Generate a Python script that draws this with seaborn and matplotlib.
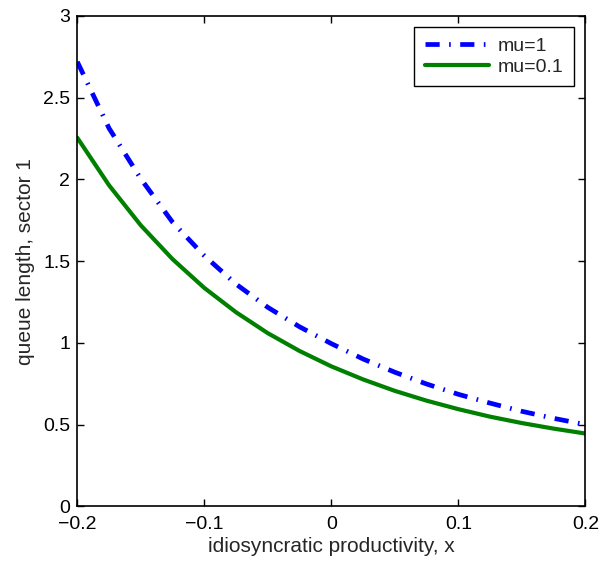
import matplotlib
matplotlib.use("Agg")
import matplotlib.pyplot as plt
import seaborn as sns
import pandas as pd

# data
x_vals = [-0.2, -0.175, -0.15, -0.125, -0.1, -0.075, -0.05, -0.025, 0.0,
          0.025, 0.05, 0.075, 0.1, 0.125, 0.15, 0.175, 0.2]
mu1_vals = [2.72, 2.313, 2.004, 1.738, 1.533, 1.359, 1.217, 1.098, 0.995,
            0.901, 0.820, 0.748, 0.685, 0.631, 0.581, 0.538, 0.50]
mu01_vals = [2.255, 1.964, 1.719, 1.512, 1.336, 1.187, 1.059, 0.950, 0.856,
             0.776, 0.706, 0.646, 0.594, 0.548, 0.509, 0.475, 0.445]
series_labels = ["mu=1", "mu=0.1"]
x_ticks = [-0.2, -0.1, 0, 0.1, 0.2]
x_ticklabels = ["\u22120.2", "\u22120.1", "0", "0.1", "0.2"]
y_ticks = [0, 0.5, 1, 1.5, 2, 2.5, 3]
y_ticklabels = ["0", "0.5", "1", "1.5", "2", "2.5", "3"]

df = pd.DataFrame({
    "x": x_vals * 2,
    "y": mu1_vals + mu01_vals,
    "series": [series_labels[0]] * len(x_vals) + [series_labels[1]] * len(x_vals),
})

sns.set_style("ticks")
plt.rcParams["font.family"] = ["Liberation Sans", "DejaVu Sans"]

fig = plt.figure(figsize=(6.01, 5.65), dpi=100)
ax = fig.add_axes([0.1286, 0.104, 0.9740 - 0.1286, 0.9717 - 0.104])

sns.lineplot(data=df[df.series == series_labels[0]], x="x", y="y", ax=ax,
             color="#0000ff", lw=3.4, label=series_labels[0],
             dashes=False, estimator=None, sort=False)
sns.lineplot(data=df[df.series == series_labels[1]], x="x", y="y", ax=ax,
             color="#008000", lw=3.0, label=series_labels[1],
             dashes=False, estimator=None, sort=False)
ax.lines[0].set_dashes([3.0, 2.0, 0.35, 2.0])
ax.lines[0].set_dash_capstyle("butt")

ax.set_xlim(-0.2, 0.2)
ax.set_ylim(0, 3)
ax.set_xticks(x_ticks)
ax.set_xticklabels(x_ticklabels)
ax.set_yticks(y_ticks)
ax.set_yticklabels(y_ticklabels)
ax.tick_params(direction="in", top=True, right=True, length=5, width=1,
               labelsize=14, colors="black", pad=5)
ax.tick_params(axis="x", pad=7)
for s in ax.spines.values():
    s.set_visible(True)
    s.set_linewidth(1.2)
    s.set_color("black")
ax.set_xlabel("idiosyncratic productivity, x", fontsize=15, labelpad=3)
ax.set_ylabel("queue length, sector 1", fontsize=15, labelpad=6)

leg = ax.legend(loc="upper right", bbox_to_anchor=(574.3 / 601, 1 - 26.7 / 565),
                bbox_transform=fig.transFigure, fontsize=14, frameon=True,
                fancybox=False, framealpha=1, edgecolor="black",
                handlelength=3.3, borderpad=0.55, labelspacing=0.15,
                handletextpad=0.45, borderaxespad=0)
leg.get_frame().set_linewidth(1.0)

fig.savefig("out.png", dpi=100)
